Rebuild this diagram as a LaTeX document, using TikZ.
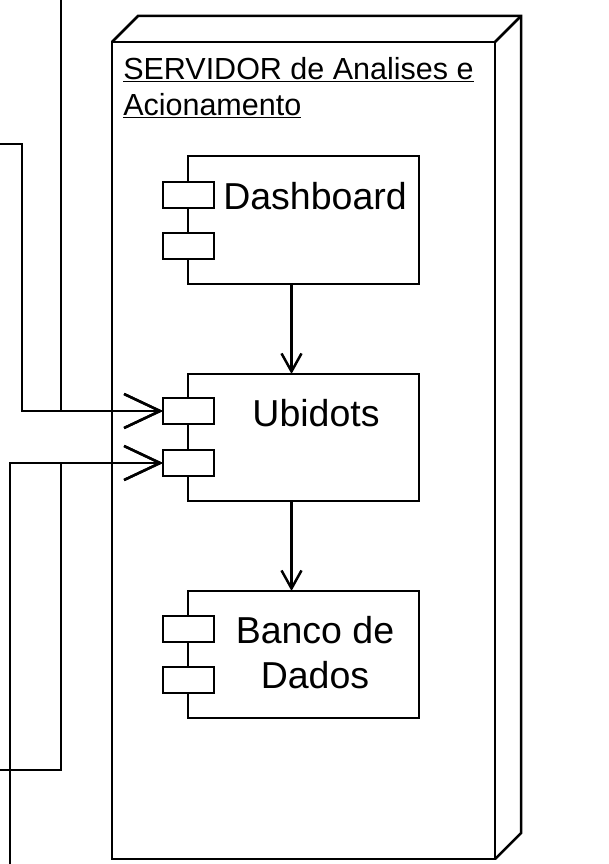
\documentclass[tikz,border=0pt]{standalone}
\usepackage{fontspec}
\setmainfont{Liberation Sans}
\usetikzlibrary{arrows.meta}
\begin{document}
\begin{tikzpicture}[x=1pt,y=-1pt, line width=2.5pt, line join=miter,
  box/.style={draw, rectangle, inner sep=0pt, outer sep=0pt, fill=white},
  comp/.style={box, minimum width=231pt, minimum height=128pt, anchor=north west},
  port/.style={box, minimum width=51pt, minimum height=26pt},
  lbl/.style={inner sep=0pt, anchor=base, font=\fontsize{37.5}{44}\selectfont},
  ttl/.style={inner sep=0pt, anchor=base west, font=\fontsize{30.5}{37}\selectfont},
  bigarrow/.style={-{Straight Barb[length=36pt,width=34pt]}},
  smallarrow/.style={-{Straight Barb[length=18pt,width=20pt]}}]
\useasboundingbox (0,0) rectangle (609,864);

% server node (3D)
\node[box, minimum width=383pt, minimum height=817pt, anchor=north west] (srv) at (112,42) {};
\draw (srv.north west) -- ++(26,-26) -- ++(383,0) -- ++(0,817) -- (srv.south east);
\draw (srv.north east) -- ++(26,-26);

\node[ttl] (t1) at (122,79.5) {\underline{SERVIDOR de Analises e}};
\node[ttl] (t2) at (122,116) {\underline{Acionamento}};

% components
\node[comp] (dash) at (188,156) {};
\node[port] (d1) at (188.5,195) {};
\node[port] (d2) at (188.5,246) {};
\node[lbl] (dashT) at (315,209) {Dashboard};

\node[comp, minimum height=127pt] (ubi) at (188,374) {};
\node[port] (u1) at (188.5,411) {};
\node[port] (u2) at (188.5,463) {};
\node[lbl] (ubiT) at (316,426) {Ubidots};

\node[comp, minimum height=127pt] (bd) at (188,591) {};
\node[port] (b1) at (188.5,629) {};
\node[port] (b2) at (188.5,680) {};
\node[lbl] (bdT1) at (315,643) {Banco de};
\node[lbl] (bdT2) at (315,688) {Dados};

% internal connectors
\draw[smallarrow] ([xshift=-12pt]dash.south) -- ([xshift=-12pt]ubi.north);
\draw[smallarrow] ([xshift=-12pt]ubi.south) -- ([xshift=-12pt]bd.north);

% external connectors
\coordinate (e1) at (0,144);
\coordinate (e2) at (61,0);
\coordinate (e3) at (10,864);
\coordinate (e4) at (0,770);
\draw[bigarrow] (e1) -- ++(22,0) |- (u1.west);
\draw[bigarrow] (e2) |- (u1.west);
\draw[bigarrow] (e3) |- (u2.west);
\draw[bigarrow] (e4) -- ++(61,0) |- (u2.west);
\end{tikzpicture}
\end{document}
